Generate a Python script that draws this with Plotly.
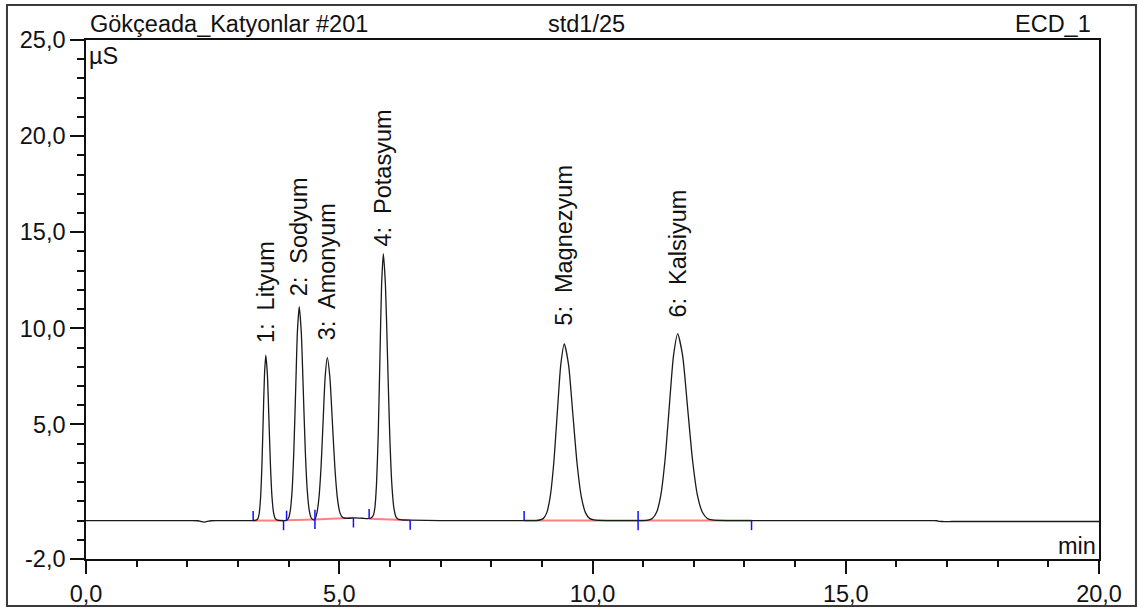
import plotly.graph_objects as go

# ---- data ----
time_min = [
    0.0, 1.0, 2.0, 2.1, 2.2, 2.25, 2.28, 2.34, 2.42, 2.47, 2.55, 3.0, 3.3,
    3.36, 3.394, 3.42, 3.446, 3.472, 3.498, 3.524, 3.55, 3.581, 3.612, 3.643, 3.674, 3.705, 3.736, 3.78, 3.85, 3.90,
    3.96, 3.997, 4.032, 4.068, 4.103, 4.139, 4.174, 4.21, 4.25, 4.29, 4.33, 4.37, 4.41, 4.45, 4.49,
    4.52, 4.557, 4.598, 4.64, 4.681, 4.722, 4.764, 4.814, 4.864, 4.914, 4.964, 5.014, 5.064, 5.12, 5.2, 5.3, 5.45, 5.56,
    5.62, 5.669, 5.703, 5.736, 5.77, 5.803, 5.836, 5.87, 5.912, 5.954, 5.996, 6.038, 6.08, 6.122, 6.17, 6.25, 6.4, 7.0, 8.0, 8.65,
    8.887, 9.026, 9.096, 9.165, 9.235, 9.304, 9.374, 9.443, 9.527, 9.611, 9.695, 9.779, 9.863, 9.947, 10.03, 10.115, 10.4, 10.9,
    11.014, 11.10, 11.181, 11.265, 11.348, 11.432, 11.515, 11.599, 11.682, 11.78, 11.877, 11.975, 12.072, 12.17, 12.267, 12.36, 12.462, 12.8, 13.14,
    14.0, 15.0, 16.0, 16.6, 16.75, 16.8, 16.85, 16.9, 17.1, 18.0, 20.0,
]
signal_uS = [
    0.0, 0.0, 0.0, 0.0, -0.01, -0.03, -0.06, -0.08, -0.03, -0.01, 0.0, 0.0, 0.0,
    0.02, 0.10, 0.38, 1.16, 2.79, 5.22, 7.59, 8.60, 7.59, 5.22, 2.79, 1.16, 0.38, 0.10, 0.02, 0.0, 0.0,
    0.01, 0.12, 0.49, 1.51, 3.61, 6.75, 9.82, 11.13, 9.82, 6.75, 3.61, 1.51, 0.49, 0.12, 0.04,
    0.06, 0.37, 1.15, 2.75, 5.14, 7.48, 8.48, 7.48, 5.14, 2.75, 1.15, 0.40, 0.17, 0.12, 0.12, 0.14, 0.12, 0.10,
    0.12, 0.25, 0.66, 1.92, 4.53, 8.43, 12.25, 13.88, 12.25, 8.42, 4.51, 1.90, 0.63, 0.18, 0.06, 0.03, 0.02, 0.0, 0.0, 0.0,
    0.0, 0.10, 0.40, 1.24, 2.98, 5.57, 8.11, 9.19, 8.11, 5.57, 2.98, 1.24, 0.40, 0.10, 0.03, 0.01, 0.0, 0.0,
    0.0, 0.02, 0.11, 0.43, 1.31, 3.15, 5.89, 8.57, 9.71, 8.57, 5.89, 3.15, 1.31, 0.43, 0.11, 0.03, 0.01, 0.0, 0.0,
    0.0, 0.0, 0.0, 0.0, 0.0, -0.01, -0.04, -0.05, -0.05, -0.05, -0.05,
]

peak_labels = ["1:\u00a0 Lityum", "2:\u00a0 Sodyum", "3:\u00a0 Amonyum",
               "4:\u00a0 Potasyum", "5:\u00a0 Magnezyum", "6:\u00a0 Kalsiyum"]
peak_time = [3.55, 4.21, 4.764, 5.87, 9.443, 11.682]
peak_height = [8.60, 11.13, 8.48, 13.88, 9.19, 9.71]

peak_start = [3.30, 3.96, 4.52, 5.59, 8.65, 10.90]
peak_start_level = [0.0, 0.01, 0.06, 0.10, 0.0, 0.0]
peak_end = [3.90, 4.52, 5.28, 6.40, 10.90, 13.14]
peak_end_level = [0.0, 0.06, 0.14, 0.02, 0.0, 0.0]

x_tick_vals = [0, 5, 10, 15, 20]
x_tick_text = ["0,0", "5,0", "10,0", "15,0", "20,0"]
y_tick_vals = [-2, 0, 5, 10, 15, 20, 25]
y_tick_text = ["-2,0", "", "5,0", "10,0", "15,0", "20,0", "25,0"]

header_left = "Gökçeada_Katyonlar #201"
header_mid = "std1/25"
header_right = "ECD_1"
y_unit = "µS"
x_unit = "min"

# ---- styles ----
FONT = "Liberation Sans, Arial, sans-serif"
FS = 23.5
label_gap_px = [10, 8, 15, 5, 16, 14]
event_len = 0.5

fig = go.Figure()

# integration baselines
bx, by = [], []
for s, sl, e, el in zip(peak_start, peak_start_level, peak_end, peak_end_level):
    bx += [s, e, None]
    by += [sl, el, None]
fig.add_trace(go.Scatter(x=bx, y=by, mode="lines",
                         line=dict(color="rgba(255,0,0,0.5)", width=2),
                         hoverinfo="skip", showlegend=False))

# chromatogram
fig.add_trace(go.Scatter(x=time_min, y=signal_uS, mode="lines",
                         line=dict(color="#1a1a1a", width=1.3, shape="spline", smoothing=0.6),
                         showlegend=False))

# peak start / end event marks
ex, ey = [], []
for s, sl in zip(peak_start, peak_start_level):
    ex += [s, s, None]
    ey += [sl, sl + event_len, None]
for e, el in zip(peak_end, peak_end_level):
    ex += [e, e, None]
    ey += [el, el - event_len, None]
fig.add_trace(go.Scatter(x=ex, y=ey, mode="lines",
                         line=dict(color="#1010ff", width=1.5),
                         hoverinfo="skip", showlegend=False))

# peak labels
for lab, t, h, g in zip(peak_labels, peak_time, peak_height, label_gap_px):
    fig.add_annotation(x=t, y=h, text=lab, textangle=-90, showarrow=False,
                       xanchor="center", yanchor="bottom", yshift=g,
                       font=dict(family=FONT, size=FS, color="#111"))

# header texts
fig.add_annotation(x=0.002, y=1, xref="paper", yref="paper", text=header_left,
                   showarrow=False, xanchor="left", yanchor="middle", yshift=16,
                   font=dict(family=FONT, size=FS, color="#111"))
fig.add_annotation(x=0.4936, y=1, xref="paper", yref="paper", text=header_mid,
                   showarrow=False, xanchor="center", yanchor="middle", yshift=16,
                   font=dict(family=FONT, size=FS, color="#111"))
fig.add_annotation(x=0.994, y=1, xref="paper", yref="paper", text=header_right,
                   showarrow=False, xanchor="right", yanchor="middle", yshift=16,
                   font=dict(family=FONT, size=FS, color="#111"))
fig.add_annotation(x=0, y=1, xref="paper", yref="paper", text=y_unit,
                   showarrow=False, xanchor="left", yanchor="middle", xshift=1, yshift=-16,
                   font=dict(family=FONT, size=FS, color="#111"))
fig.add_annotation(x=1, y=0, xref="paper", yref="paper", text=x_unit,
                   showarrow=False, xanchor="right", yanchor="middle", xshift=-1, yshift=13,
                   font=dict(family=FONT, size=FS, color="#111"))

# outer frame
fig.add_shape(type="rect", xref="paper", yref="paper",
              x0=-0.078, x1=1.0365, y0=-0.0906, y1=1.0674,
              line=dict(color="#3a3a3a", width=2))

fig.update_layout(
    width=1138, height=608, autosize=False,
    margin=dict(l=86, r=39, t=40, b=49),
    paper_bgcolor="white", plot_bgcolor="white",
    font=dict(family=FONT, size=FS, color="#111"),
    showlegend=False,
)
fig.update_xaxes(range=[0, 20], showgrid=False, zeroline=False, automargin=False,
                 showline=True, mirror=True, linecolor="#111", linewidth=1.5,
                 tickmode="array", tickvals=x_tick_vals, ticktext=x_tick_text,
                 ticks="outside", ticklen=13, tickwidth=1.5, tickcolor="#111",
                 minor=dict(tickvals=list(range(0, 21)), ticks="outside", ticklen=6,
                            tickwidth=1.5, tickcolor="#111"),
                 tickfont=dict(family=FONT, size=FS, color="#111"))
fig.update_yaxes(range=[-2, 25], showgrid=False, zeroline=False, automargin=False,
                 showline=True, mirror=True, linecolor="#111", linewidth=1.5,
                 tickmode="array", tickvals=y_tick_vals, ticktext=y_tick_text,
                 ticks="outside", ticklen=14, tickwidth=1.5, tickcolor="#111",
                 minor=dict(tickvals=list(range(-2, 26)), ticks="outside", ticklen=7,
                            tickwidth=1.5, tickcolor="#111"),
                 tickfont=dict(family=FONT, size=FS, color="#111"))

fig.write_html("out.html")
